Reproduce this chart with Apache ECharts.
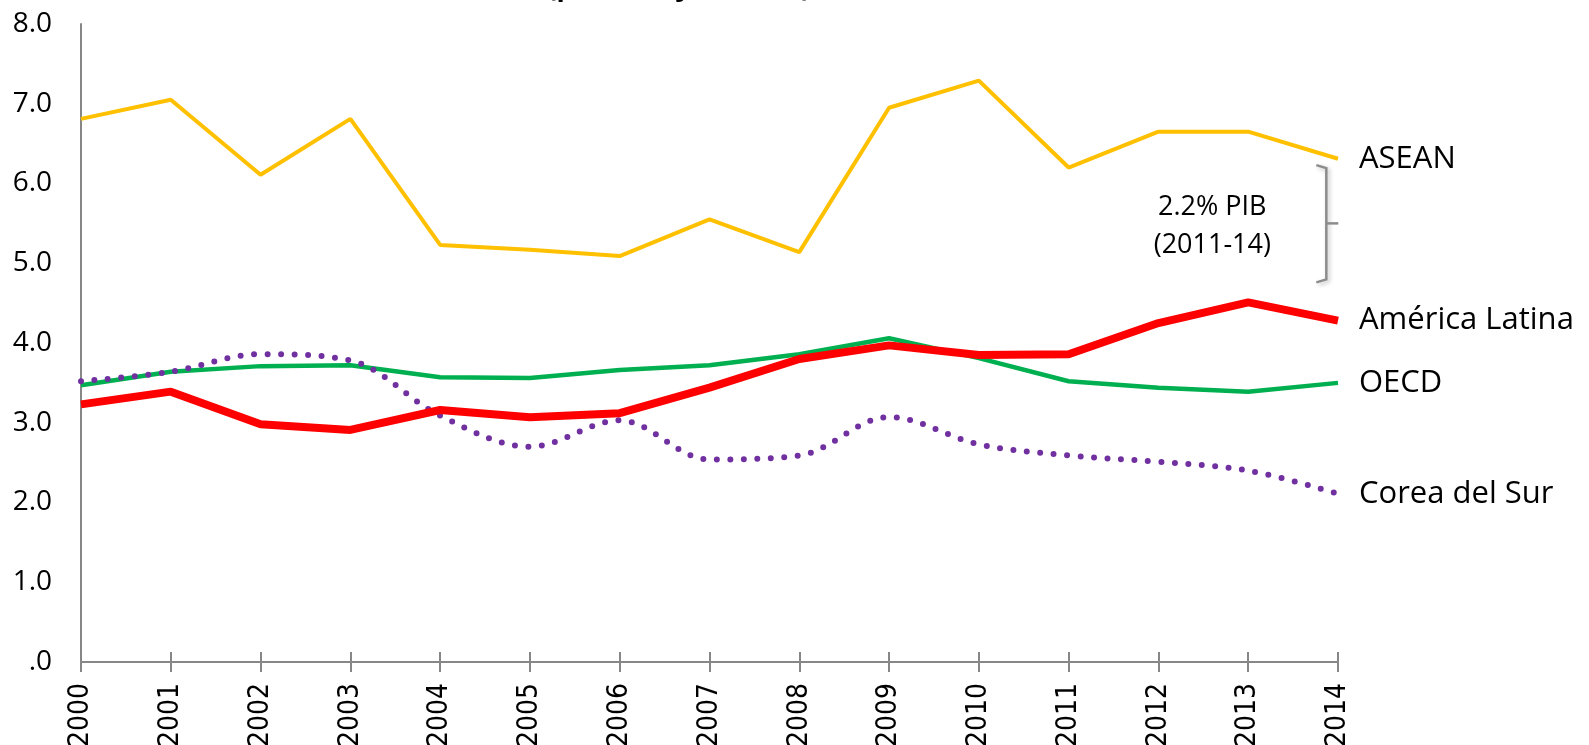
<!DOCTYPE html>
<html>
<head>
<meta charset="utf-8">
<script src="https://cdn.jsdelivr.net/npm/echarts@6/dist/echarts.min.js"></script>
<style>
    html, body { margin: 0; padding: 0; background: #fff; }
    #chart { width: 1589px; height: 745px; }
</style>
</head>
<body>
<div id="chart"></div>
<script>
// datos
var years = ['2000', '2001', '2002', '2003', '2004', '2005', '2006', '2007', '2008', '2009', '2010', '2011', '2012', '2013', '2014'];
var asean = [6.81, 7.05, 6.11, 6.81, 5.23, 5.17, 5.09, 5.55, 5.14, 6.95, 7.29, 6.20, 6.65, 6.65, 6.31];
var latam = [3.23, 3.39, 2.98, 2.91, 3.16, 3.07, 3.12, 3.44, 3.80, 3.97, 3.85, 3.86, 4.25, 4.51, 4.28];
var oecd = [3.47, 3.64, 3.71, 3.72, 3.57, 3.56, 3.66, 3.72, 3.86, 4.06, 3.81, 3.52, 3.44, 3.39, 3.50];
var corea = [3.52, 3.64, 3.86, 3.78, 3.09, 2.70, 3.03, 2.54, 2.59, 3.07, 2.73, 2.59, 2.51, 2.40, 2.11];
var noteLines = ['2.2% PIB', '(2011-14)'];

var axisGray = '#878787';
var labelFont = '"Open Sans", "Noto Sans", sans-serif';

var myChart = echarts.init(document.getElementById('chart'));

function serie(name, data, color, width, extra) {
    var s = {
        name: name,
        type: 'line',
        data: data,
        symbol: 'none',
        xAxisIndex: 0,
        lineStyle: { color: color, width: width },
        endLabel: {
            show: true,
            formatter: '{a}',
            distance: 21,
            color: '#000',
            fontSize: 31,
            fontFamily: labelFont
        },
        z: 3
    };
    for (var k in extra) { s[k] = extra[k]; }
    return s;
}

var option = {
    backgroundColor: '#fff',
    animation: false,
    title: {
        text: '(porcentaje del PIB)',
        left: 674,
        textAlign: 'center',
        top: -30,
        textStyle: { fontSize: 27, fontWeight: 'bold', fontFamily: labelFont, color: '#000' }
    },
    grid: { left: 81, right: 251, top: 24, bottom: 83, containLabel: false, outerBoundsMode: 'none' },
    xAxis: [{
        type: 'category',
        data: years,
        boundaryGap: false,
        axisLine: { lineStyle: { color: axisGray, width: 2 } },
        axisTick: { show: true, length: 10, lineStyle: { color: axisGray, width: 2 } },
        axisLabel: {
            rotate: 90,
            margin: 21,
            color: '#000',
            fontSize: 28,
            fontFamily: '"DejaVu Sans Condensed", "DejaVu Sans", sans-serif'
        }
    }, {
        type: 'category',
        data: years,
        boundaryGap: false,
        position: 'bottom',
        axisLine: { show: false },
        axisTick: { show: true, inside: true, length: 10, lineStyle: { color: axisGray, width: 2 } },
        axisLabel: { show: false }
    }],
    yAxis: {
        type: 'value',
        min: 0,
        max: 8,
        interval: 1,
        axisLine: { show: true, lineStyle: { color: axisGray, width: 2 } },
        axisTick: { show: false },
        splitLine: { show: false },
        axisLabel: {
            margin: 29,
            color: '#000',
            fontSize: 28,
            fontFamily: labelFont,
            formatter: function (v) {
                return v === 0 ? '.0' : v.toFixed(1);
            }
        }
    },
    series: [
        serie('ASEAN', asean, '#FFC000', 4),
        serie('América Latina', latam, '#FF0000', 8, { z: 4 }),
        serie('OECD', oecd, '#00B050', 4.5),
        serie('Corea del Sur', corea, '#7030A0', 6, {
            smooth: 0.35,
            lineStyle: { color: '#7030A0', width: 6, type: [0, 13.5], cap: 'round' }
        })
    ]
};
myChart.setOption(option);

// llave y nota (2011-14)
function px(idx, val) {
    var a = myChart.convertToPixel({ xAxisIndex: 0, yAxisIndex: 0 }, [Math.floor(idx), val]);
    var b = myChart.convertToPixel({ xAxisIndex: 0, yAxisIndex: 0 }, [Math.ceil(idx), val]);
    var f = idx - Math.floor(idx);
    return [a[0] + (b[0] - a[0]) * f, a[1]];
}
var top_ = px(13.87, 6.23);
var bot = px(13.87, 4.76);
var mid = px(13.87, 5.5);
var txt1 = px(12.6, 5.7);
var txt2 = px(12.6, 5.22);
myChart.setOption({
    graphic: [{
        type: 'polyline',
        shape: { points: [[top_[0] - 10, top_[1]], [top_[0], top_[1] + 3], [bot[0], bot[1] - 3], [bot[0] - 10, bot[1]]] },
        style: { stroke: '#8c8c8c', lineWidth: 2.5, fill: null, shadowBlur: 4, shadowColor: 'rgba(0,0,0,0.25)', shadowOffsetX: 2, shadowOffsetY: 2 }
    }, {
        type: 'line',
        shape: { x1: mid[0], y1: mid[1], x2: mid[0] + 12, y2: mid[1] },
        style: { stroke: '#8c8c8c', lineWidth: 2.5 }
    }, {
        type: 'text',
        x: txt1[0], y: txt1[1],
        style: { text: noteLines[0], fill: '#000', font: '27px ' + labelFont, align: 'center', verticalAlign: 'middle' }
    }, {
        type: 'text',
        x: txt2[0], y: txt2[1],
        style: { text: noteLines[1], fill: '#000', font: '27px ' + labelFont, align: 'center', verticalAlign: 'middle' }
    }]
});
</script>
</body>
</html>
